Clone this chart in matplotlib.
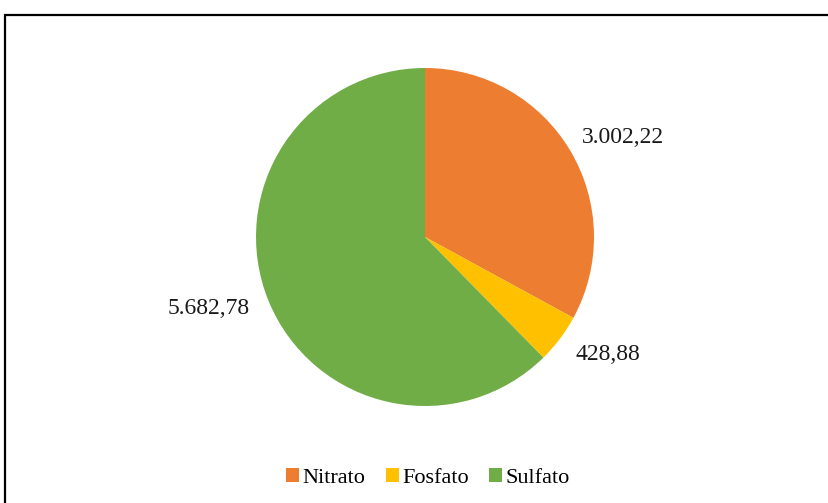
import numpy as np
import matplotlib.pyplot as plt
from matplotlib.patches import Patch, Rectangle

plt.rcParams['font.family'] = ['Liberation Serif', 'DejaVu Serif']

# data
categories = ["Nitrato", "Fosfato", "Sulfato"]
values = [3002.22, 428.88, 5682.78]
value_labels = ["3.002,22", "428,88", "5.682,78"]
colors = ["#ED7D31", "#FFC000", "#70AD47"]

# label placement ("best fit" in the original): radial distance and angle nudge
label_dist = [1.31, 1.29, 1.35]
label_nudge = [-4.0, 4.3, -3.9]

W, H = 829, 503
fig = plt.figure(figsize=(W / 100, H / 100), dpi=100)

# outer chart frame (runs off the right/bottom edge of the picture)
fig.patches.append(Rectangle((5 / W, -0.1), 1.1, 1 - 15 / H + 0.1,
                             transform=fig.transFigure, fill=False,
                             edgecolor="black", linewidth=1.6))

# pie axes: centre ~ (425, 237) px, radius ~ 169 px
cx, cy, r = 425, 237, 169
ax = fig.add_axes([(cx - r) / W, (H - cy - r) / H, 2 * r / W, 2 * r / H])
wedges, texts = ax.pie(values, labels=value_labels, colors=colors,
                       startangle=90, counterclock=False,
                       textprops=dict(fontsize=17, color="#1a1a1a"))
for w, t, d, nudge in zip(wedges, texts, label_dist, label_nudge):
    ang = np.deg2rad((w.theta1 + w.theta2) / 2 + nudge)
    t.set_position((d * np.cos(ang), d * np.sin(ang)))
    t.set_ha("center")
    t.set_va("center")
ax.set_xlim(-1, 1)
ax.set_ylim(-1, 1)
ax.set_aspect("equal")
ax.axis("off")

handles = [Patch(facecolor=c, edgecolor="none") for c in colors]
fig.legend(handles, categories, loc="center", bbox_to_anchor=(428 / W, 25 / H),
           ncol=3, frameon=False, fontsize=16, handlelength=0.6, handleheight=0.6,
           handletextpad=0.15, columnspacing=0.9)

fig.savefig("out.png", dpi=100, facecolor="white")
